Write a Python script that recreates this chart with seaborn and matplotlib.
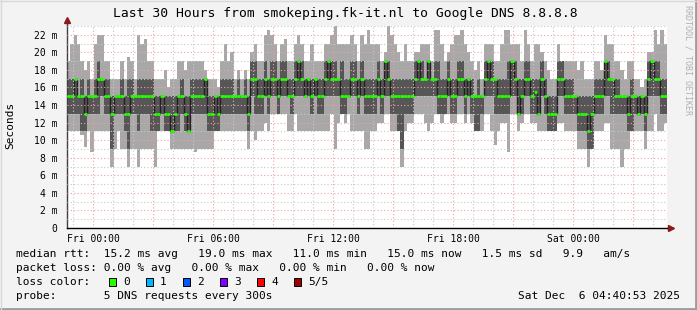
import numpy as np
import pandas as pd
import matplotlib
matplotlib.use("Agg")
import matplotlib.pyplot as plt
import seaborn as sns
from matplotlib.ticker import MultipleLocator, FixedLocator, FixedFormatter, FuncFormatter
from matplotlib.patches import Rectangle
from matplotlib.lines import Line2D

# ---------------- data (10-minute steps, hours relative to Fri 00:00) ----------------
start_hour = -1.32
step_hours = 1 / 6

rtt_max = [19,21,22,21,19,18,19,17,21,22, 22,19,19,17,17,17,19,17,19.5,19, 17,22,21,21.5,19,19,17,17,17,18,
           16,17,17,19,19,18,19,19,19,19, 19,18,17,17,17,16,19,21,19,20, 17,18,17,18,17,20,21,19,19,22,
           22.6,22,21,19,21,21.5,19,19,21,22, 21,19,19,21,19,19,19,21,21,22, 23,21,21,21,21,22,21,19,22,21,
           22.6,21,21,21,19,20,23,22,21,20, 19,21,19,19,20,20,21,21,21,19, 22.6,22.6,21,19,20,21,22,22,22.6,21,
           20,19,18,19,17,21,21,21,19,19, 21,22.6,22.6,21,21,21,19,22.6,21,19, 21,21,20,19,18,17,17,21,19,19,
           19,19,19,18,19,17,17,17,19,19, 18,22,21,21,19,19,18,17,19,19, 17,17,16,17,20,20,22.6,21,22.6,21]

rtt_q_hi = [17,17,17,15,17,15,17,15,17,19, 17,17,17,15,15,15,17,15,17,17, 15,17,17,17,17,17,15,15,15,15,
            15,15,15,15,17,15,15,17,17,17, 17,17,15,15,15,15,17,17,17,17, 15,17,15,17,15,19,19,17,17,19,
            17,19,19,17,19,19,17,17,19,19, 19,17,17,17,17,17,17,19,19,19, 19,17,19,17,17,19,19,17,19,17,
            17,17,17,19,17,19,19,17,17,17, 17,17,17,17,19,19,19,17,19,17, 19,19,17,17,19,17,17,19,19,17,
            17,17,15,17,15,19,19,19,17,17, 17,17,19,19,19,17,17,19,19,17, 17,17,19,17,15,15,15,19,19,17,
            17,17,15,15,15,15,15,15,17,17, 17,19,19,17,17,17,15,15,15,17, 15,15,15,15,19,19,19,19,17,17]

rtt_median = [15,15,17,15,15,13,15,15,15,17, 17,15,15,13,15,15,15,13,13,15, 15,15,15,15,15,15,13,13,15,13,
              13,11,13,15,15,13,11,15,15,15, 15,17,13,13,15,13,15,15,15,15, 15,15,15,15,13,17,17,15,15,17,
              15,17,17,15,17,17,15,15,17,19, 17,15,17,15,17,15,15,17,19,17, 17,17,15,15,15,17,17,15,17,15,
              15,15,15,17,15,19,17,15,15,15, 15,15,15,15,17,19,17,17,19,17, 17,15,15,15,17,15,15,17,17,15,
              17,15,15,15,15,17,19,17,17,15, 15,15,15,19,17,13,15,17,17,15, 15.5,13,17,15,13,13,13,17,17,15,
              15,15,15,13,13,13,11,13,15,15, 15,19,17,17,15,15,15,15,13,15, 15,13,15,13,17,19,17,17,15,15]

rtt_q_lo = [13,13,13,13,11,11,13,13,13,13, 15,13,13,9,13,13,13,11,9,13, 13,11,13,13,13,11,11,11,13,11,
            11,11,11,11,13,11,11,13,13,13, 13,13,11,11,11,11,13,13,13,13, 13,13,13,13,11,15,13,13,13,15,
            13,15,15,13,15,15,15,13,15,15, 15,15,15,13,15,13,13,15,15,15, 15,15,13,13,15,15,15,13,15,13,
            13,13,13,15,13,15,15,13,13,11, 9,13,13,13,15,15,15,15,15,15, 15,13,13,13,15,13,13,15,15,13,
            15,13,11,11,13,15,15,15,13,13, 13,13,13,15,15,13,13,15,15,13, 13,13,15,13,11,11,11,15,15,13,
            13,13,13,11,11,11,9,9,13,13, 13,15,15,13,13,13,13,13,11,11, 13,13,13,11,15,15,15,15,13,13]

rtt_min = [11,11,11,11,10.6,9.2,11,8.7,11,11, 11,11,11,7,9,11,9,9,7,9, 9,7,9,9,9,9,7,11,11,11,
           11,9,9,9,9,9,9,9,8.7,9, 9,9,9,9,11,11,11,11,11,11, 11,11,11,11,9,11,10,11,11,12,
           11,13,13,13,13,13,11,11,13,11, 11,11,11,11,11,11,11,11,11,13, 9,12,13,12,13,11,11,11,11,9,
           9,11,11,12,12,13,13,11,11,11, 7,11,12,12,13,13,13,12,11,12, 13,13,12,13,13,12,12,13,13,12,
           13,12,11,11,11,13,13,11,9.5,11, 12,12,8.7,13,13,11,12,13,13,12, 12,11,11,11,11,11,11,12,12,11,
           11,11,11,9,9,9,7,9,11,11, 11,12,12,9,9,9,7,9,9,11, 11,11,11,9,11,11,13,11,11,12]

x_label_hours = [0, 6, 12, 18, 24]
x_labels = ["Fri 00:00", "Fri 06:00", "Fri 12:00", "Fri 18:00", "Sat 00:00"]
y_ticks = [0, 2, 4, 6, 8, 10, 12, 14, 16, 18, 20, 22]
y_tick_labels = ["0", "2 m", "4 m", "6 m", "8 m", "10 m", "12 m", "14 m", "16 m", "18 m", "20 m", "22 m"]

title = "Last 30 Hours from smokeping.fk-it.nl to Google DNS 8.8.8.8"
legend_rows = [
    "median rtt:  15.2 ms avg   19.0 ms max   11.0 ms min   15.0 ms now   1.5 ms sd   9.9   am/s",
    "packet loss: 0.00 % avg   0.00 % max   0.00 % min   0.00 % now",
    "loss color:",
    "probe:       5 DNS requests every 300s",
]
timestamp = "Sat Dec  6 04:40:53 2025"
loss_labels = ["0", "1", "2", "3", "4", "5/5"]
loss_colors = ["#26ff00", "#00b8ff", "#0059ff", "#7e00ff", "#ff0000", "#a00000"]

# ---------------- figure ----------------
sns.set_theme(style="white")
plt.rcParams["font.family"] = ["DejaVu Sans Mono", "DejaVu Sans"]

W, H = 697, 310
fig = plt.figure(figsize=(W / 100, H / 100), dpi=100, facecolor="#f3f3f3")

def fx(px):
    return px / W

def fy(py):
    return 1 - py / H

ax = fig.add_axes([fx(67), fy(228), fx(667) - fx(67), fy(26) - fy(228)])
ax.set_facecolor("white")

n = len(rtt_median)
t = start_hour + np.arange(n) * step_hours
edges = np.append(t, t[-1] + step_hours)

def ext(a):
    return np.append(np.asarray(a, float), a[-1])

ax.fill_between(edges, ext(rtt_min), ext(rtt_max), step="post", color="#a8a8a8", lw=0, zorder=1)
ax.fill_between(edges, ext(rtt_q_lo), ext(rtt_q_hi), step="post", color="#565656", lw=0, zorder=1.1)

df = pd.DataFrame({"t": edges, "median": ext(rtt_median)})
sns.lineplot(data=df, x="t", y="median", drawstyle="steps-post", color="#202020", lw=1,
             ax=ax, zorder=1.5, legend=False)
ax.hlines(rtt_median, t, t + step_hours, color=loss_colors[0], lw=2, zorder=3)

ax.set_xlim(start_hour, start_hour + n * step_hours)
ax.set_ylim(0, 23)

# grid
ax.xaxis.set_major_locator(MultipleLocator(3))
ax.xaxis.set_minor_locator(MultipleLocator(1))
lab_map = dict(zip(x_label_hours, x_labels))
ax.xaxis.set_major_formatter(FuncFormatter(lambda v, p: lab_map.get(int(round(v)), "")))
ax.yaxis.set_major_locator(FixedLocator(y_ticks))
ax.yaxis.set_major_formatter(FixedFormatter(y_tick_labels))
ax.yaxis.set_minor_locator(MultipleLocator(1))
ax.set_axisbelow(False)
ax.grid(which="major", color="#f4a0a0", linestyle=(0, (1, 2)), lw=0.8)
ax.grid(which="minor", color="#c8c8c8", linestyle=(0, (1, 2)), lw=0.8)

for s in ["top", "right"]:
    ax.spines[s].set_visible(False)
ax.spines["left"].set_color("#404040")
ax.spines["bottom"].set_color("#000000")
ax.spines["left"].set_linewidth(1)
ax.spines["bottom"].set_linewidth(1)
ax.tick_params(axis="both", which="both", length=2, width=0.8, colors="black", labelsize=7)
ax.tick_params(axis="y", pad=5)
ax.tick_params(axis="x", pad=2.5)
ax.set_xlabel("")
ax.set_ylabel("")

# axis arrows
ax.add_line(Line2D([0, 0], [1, 1.02], transform=ax.transAxes, color="#404040", lw=1, clip_on=False))
ax.add_line(Line2D([1, 1.005], [0, 0], transform=ax.transAxes, color="#000000", lw=1, clip_on=False))
ax.plot([0], [1.03], transform=ax.transAxes, marker="^", ms=4.5, color="#8b1a1a", clip_on=False, zorder=5)
ax.plot([1.006], [0], transform=ax.transAxes, marker=">", ms=4.5, color="#8b1a1a", clip_on=False, zorder=5)

# titles
fig.text(fx(345), fy(13), title, ha="center", va="center", fontsize=9.4, color="black")
fig.text(fx(10), fy(125), "Seconds", rotation=90, ha="center", va="center", fontsize=8, color="black")
fig.text(fx(688), fy(5), "RRDTOOL / TOBI OETIKER", rotation=270, ha="center", va="top",
         fontsize=6, color="#b0b0b0")

# legend
fs = 8
for y, s in zip([254, 268, 282, 296], legend_rows):
    fig.text(fx(16), fy(y), s, ha="left", va="center", fontsize=fs, color="black")
fig.text(fx(680), fy(296), timestamp, ha="right", va="center", fontsize=fs, color="black")

box_x = [109, 146, 183, 220, 257, 294]
for bx, c, lab in zip(box_x, loss_colors, loss_labels):
    fig.patches.append(Rectangle((fx(bx), fy(286)), fx(7), 8 / H, transform=fig.transFigure,
                                 facecolor=c, edgecolor="black", lw=0.7))
    fig.text(fx(bx + 14), fy(282), lab, ha="left", va="center", fontsize=fs, color="black")

# frame
fig.add_artist(Line2D([fx(696), fx(696)], [0, 1], transform=fig.transFigure, color="#9c9c9c", lw=2))
fig.add_artist(Line2D([0, 1], [fy(309), fy(309)], transform=fig.transFigure, color="#9c9c9c", lw=2))
fig.add_artist(Line2D([fx(0.5), fx(0.5)], [0, 1], transform=fig.transFigure, color="#d8d8d8", lw=1))
fig.add_artist(Line2D([0, 1], [fy(0.5), fy(0.5)], transform=fig.transFigure, color="#d8d8d8", lw=1))

fig.savefig("out.png", dpi=100, facecolor=fig.get_facecolor())
